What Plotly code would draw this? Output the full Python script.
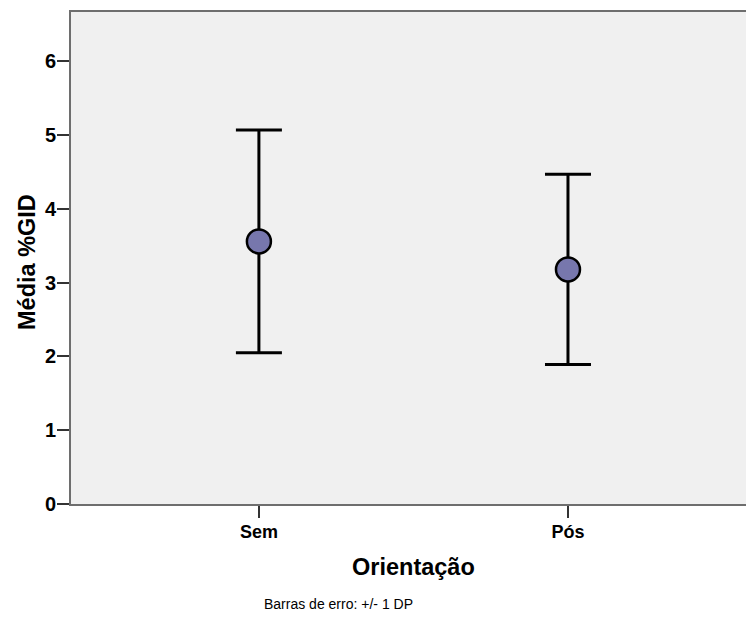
import plotly.graph_objects as go

categories = ["Sem", "Pós"]
means = [3.56, 3.18]
sds = [1.51, 1.29]
y_ticks = [0, 1, 2, 3, 4, 5, 6]

W, H = 746, 617
L, R, T, B = 71, 0, 12, 113
pw = W - L - R
ph = H - T - B

FONT = "Arial, Liberation Sans, sans-serif"

fig = go.Figure()
fig.add_trace(go.Scatter(
    x=categories, y=means, mode="markers",
    marker=dict(size=24, color="#7777AD", line=dict(color="black", width=2.5)),
    error_y=dict(type="data", array=sds, symmetric=True, color="black", thickness=3, width=23),
    showlegend=False, hoverinfo="skip",
))

def px_x(px):
    return (px - L) / pw

def px_y(py):
    return (H - B - py) / ph

fig.update_layout(
    width=W, height=H,
    margin=dict(l=L, r=R, t=T, b=B),
    paper_bgcolor="white", plot_bgcolor="#F0F0F0",
    font=dict(family=FONT, color="black"),
    xaxis=dict(
        type="category", range=[-0.608, 1.576],
        showline=True, linecolor="#6e6e6e", linewidth=2, mirror=True,
        ticks="outside", ticklen=12, tickwidth=1.5, tickcolor="#333333",
        tickfont=dict(family=FONT, size=18, color="black", weight="bold"),
        ticklabelstandoff=-2,
        showgrid=False, zeroline=False,
    ),
    yaxis=dict(
        range=[0, 6.67], tickvals=y_ticks, ticktext=[str(v) for v in y_ticks],
        showline=True, linecolor="#6e6e6e", linewidth=2, mirror=False,
        ticks="outside", ticklen=12, tickwidth=1.5, tickcolor="#333333",
        tickfont=dict(family=FONT, size=20, color="black", weight="bold"),
        ticklabelstandoff=-3,
        showgrid=False, zeroline=False,
    ),
    annotations=[
        dict(text="<b>Média %GID</b>", xref="paper", yref="paper",
             x=px_x(27), y=px_y(262), xanchor="center", yanchor="middle",
             textangle=-90, showarrow=False, font=dict(family=FONT, size=23.5, color="black")),
        dict(text="<b>Orientação</b>", xref="paper", yref="paper",
             x=px_x(413), y=px_y(567), xanchor="center", yanchor="middle",
             showarrow=False, font=dict(family=FONT, size=23.5, color="black")),
        dict(text="Barras de erro: +/- 1 DP", xref="paper", yref="paper",
             x=px_x(338), y=px_y(604), xanchor="center", yanchor="middle",
             showarrow=False, font=dict(family=FONT, size=14, color="black")),
    ],
)

fig.write_html("out.html")
